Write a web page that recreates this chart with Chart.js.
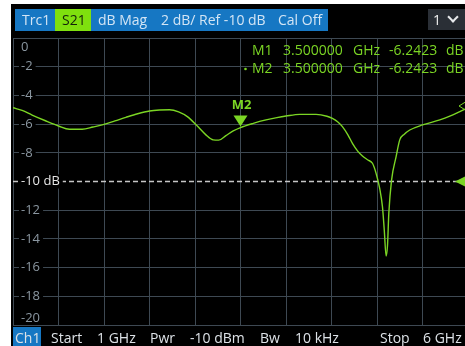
<!DOCTYPE html>
<html>
<head>
<meta charset="utf-8">
<script src="https://cdn.jsdelivr.net/npm/chart.js@4"></script>
<style>
  html, body { margin: 0; padding: 0; width: 465px; height: 346px; overflow: hidden; background: #fff; }
  body { position: relative; font-family: 'Open Sans', sans-serif; }
  #screen { position: absolute; left: 11px; top: 4px; width: 460px; height: 350px; background: #000; }
  #plot { position: absolute; left: 0; top: 0; }
  .t { position: absolute; white-space: nowrap; font-size: 14px; line-height: 20px; }
  #trcbar { position: absolute; left: 15px; top: 9px; width: 313px; height: 22px; background: #1677c3; }
  #s21 { position: absolute; left: 55px; top: 9px; width: 36px; height: 22px; background: #7fe00e; }
  #chsel { position: absolute; left: 428px; top: 9px; width: 40px; height: 21px; background: #2a2f36; }
  #chev { position: absolute; left: 449px; top: 13px; width: 6px; height: 6px; border-right: 2px solid #e8eaec; border-bottom: 2px solid #e8eaec; transform: rotate(45deg); }
  #ch1 { position: absolute; left: 13px; top: 327px; width: 28px; height: 20px; background: #1677c3; }
  .top { top: 10px; color: #d3e5f5; }
  .bot { top: 328px; color: #dde2e7; }
</style>
</head>
<body>
<div id="screen"></div>
<canvas id="plot" width="480" height="346"></canvas>

<div id="trcbar"></div>
<div id="s21"></div>
<span class="t top" style="left:22px">Trc1</span>
<span class="t top" style="left:62px;color:#14220a">S21</span>
<span class="t top" style="left:98px">dB Mag</span>
<span class="t top" style="left:161px">2 dB/ Ref -10 dB</span>
<span class="t top" style="left:278px">Cal Off</span>
<div id="chsel"></div>
<span class="t top" style="left:433px;color:#f0f0f0">1</span>
<div id="chev"></div>

<div id="ch1"></div>
<span class="t bot" style="left:15px">Ch1</span>
<span class="t bot" style="left:51px">Start</span>
<span class="t bot" style="left:97px">1 GHz</span>
<span class="t bot" style="left:150px">Pwr</span>
<span class="t bot" style="left:190px">-10 dBm</span>
<span class="t bot" style="left:260px">Bw</span>
<span class="t bot" style="left:295px">10 kHz</span>
<span class="t bot" style="left:380px">Stop</span>
<span class="t bot" style="left:423px">6 GHz</span>

<script>
// S21 sweep, 1 GHz .. 6 GHz
const freqGHz = [1.00, 1.10, 1.21, 1.35, 1.50, 1.62, 1.76, 1.88, 2.00, 2.12, 2.24, 2.37, 2.50, 2.61, 2.72,
  2.82, 2.92, 3.02, 3.12, 3.20, 3.26, 3.34, 3.42, 3.50, 3.64, 3.78, 3.90, 4.00, 4.15, 4.33, 4.45,
  4.51, 4.57, 4.62, 4.68, 4.73, 4.79, 4.84, 4.90, 4.95, 4.99, 5.03, 5.06, 5.08, 5.10, 5.115, 5.13,
  5.16, 5.21, 5.25, 5.30, 5.36, 5.50, 5.69, 5.80, 5.91, 5.97];
const s21dB = [-4.86, -5.05, -5.37, -5.75, -6.13, -6.36, -6.36, -6.2, -6.02, -5.78, -5.53, -5.28, -5.09, -5.02, -5.0,
  -5.15, -5.5, -6.1, -6.75, -7.1, -7.12, -6.8, -6.48, -6.2423, -5.95, -5.71, -5.55, -5.44, -5.32, -5.32, -5.45,
  -5.6, -5.85, -6.18, -6.75, -7.34, -7.9, -8.22, -8.5, -8.73, -9.43, -10.5, -11.76, -13.4, -15.19, -14.5, -12.2,
  -9.9, -8.27, -7.1, -6.7, -6.41, -6.06, -5.71, -5.45, -5.13, -4.95];

const refLevel = -10;
const markerFreq = 3.5;
const markerVal = -6.2423;
const readoutRows = [
  ['M1', '3.500000', 'GHz', '-6.2423', 'dB'],
  ['M2', '3.500000', 'GHz', '-6.2423', 'dB'],
];

const trace = '#7bd524';
const gridCol = '#3e4953';

const overlay = {
  id: 'overlay',
  beforeDatasetsDraw(chart) {
    const { ctx, chartArea: a, scales: { y } } = chart;
    const ry = y.getPixelForValue(refLevel);
    ctx.save();
    // reference level line
    ctx.strokeStyle = '#c6c6c6';
    ctx.lineWidth = 1.5;
    ctx.setLineDash([5, 3]);
    ctx.beginPath();
    ctx.moveTo(a.left, ry);
    ctx.lineTo(a.right, ry);
    ctx.stroke();
    ctx.setLineDash([]);
    // y tick labels, drawn inside the grid
    ctx.font = '13px "Open Sans"';
    ctx.textBaseline = 'middle';
    y.ticks.forEach(t => {
      let py = y.getPixelForValue(t.value);
      py = Math.min(Math.max(py, a.top + 9), a.bottom - 7);
      const isRef = t.value === refLevel;
      const txt = isRef ? t.value + ' dB' : String(t.value);
      const w = ctx.measureText(txt).width;
      ctx.fillStyle = '#000';
      ctx.fillRect(a.left + 6, py - 7, w + 5, 14);
      ctx.fillStyle = isRef ? '#e6e6e6' : '#8b97a1';
      ctx.fillText(txt, a.left + 8, py);
    });
    ctx.restore();
  },
  afterDatasetsDraw(chart) {
    const { ctx, scales: { x, y } } = chart;
    ctx.save();
    ctx.fillStyle = trace;
    ctx.strokeStyle = trace;
    // M2 marker
    const mx = x.getPixelForValue(markerFreq);
    const my = y.getPixelForValue(markerVal);
    ctx.beginPath();
    ctx.moveTo(mx, my - 1);
    ctx.lineTo(mx - 7, my - 12);
    ctx.lineTo(mx + 7, my - 12);
    ctx.closePath();
    ctx.fill();
    ctx.font = 'bold 13px "Open Sans"';
    ctx.textAlign = 'center';
    ctx.textBaseline = 'middle';
    ctx.fillText('M2', mx + 1, my - 22);
    // reference level pointer at the right edge
    const ry = y.getPixelForValue(refLevel);
    ctx.beginPath();
    ctx.moveTo(455, ry);
    ctx.lineTo(467, ry - 6);
    ctx.lineTo(467, ry + 6);
    ctx.closePath();
    ctx.fill();
    // off-screen marker hint
    ctx.lineWidth = 1;
    ctx.beginPath();
    ctx.moveTo(459, 106);
    ctx.lineTo(467, 101);
    ctx.lineTo(467, 111);
    ctx.closePath();
    ctx.stroke();
    // marker readout
    ctx.font = '14px "Open Sans"';
    ctx.textAlign = 'left';
    const cols = [252, 283, 353, 389, 446];
    readoutRows.forEach((row, r) => {
      const ty = 51 + r * 18;
      row.forEach((s, i) => ctx.fillText(s, cols[i], ty));
    });
    ctx.beginPath();
    ctx.arc(245.5, 69, 1.3, 0, Math.PI * 2);
    ctx.fill();
    ctx.restore();
  }
};

new Chart(document.getElementById('plot'), {
  type: 'line',
  data: {
    datasets: [{
      data: freqGHz.map((f, i) => ({ x: f, y: s21dB[i] })),
      borderColor: trace,
      borderWidth: 1.4,
      pointRadius: 0,
      cubicInterpolationMode: 'monotone',
      fill: false
    }]
  },
  options: {
    responsive: false,
    animation: false,
    events: [],
    layout: { padding: { left: 13, top: 38, right: 12, bottom: 21 } },
    plugins: { legend: { display: false }, tooltip: { enabled: false } },
    scales: {
      x: {
        type: 'linear', min: 1, max: 6,
        ticks: { display: false, stepSize: 0.5 },
        grid: { color: gridCol, drawTicks: false },
        border: { color: gridCol }
      },
      y: {
        min: -20, max: 0,
        ticks: { display: false, stepSize: 2 },
        grid: { color: ctx => ctx.tick && ctx.tick.value === refLevel ? 'rgba(0,0,0,0)' : gridCol, drawTicks: false },
        border: { color: gridCol }
      }
    }
  },
  plugins: [overlay]
});
</script>
</body>
</html>
